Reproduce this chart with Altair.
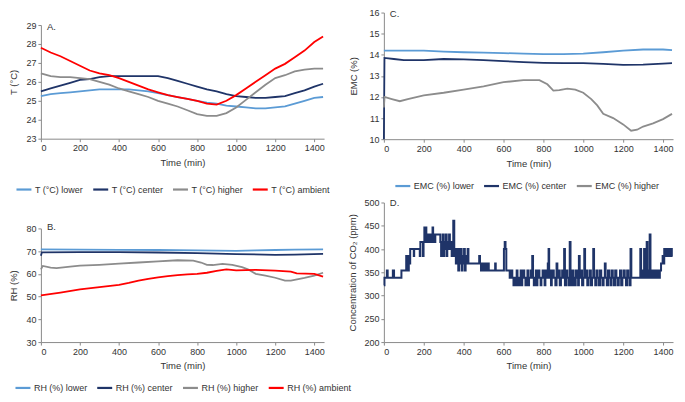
import altair as alt
import pandas as pd

FONT = "Liberation Sans"
LB, NV, GR, RD = "#5B9BD5", "#1F3468", "#8C8C8C", "#FF0000"

# ---------------- Panel A: temperature (°C)
a_time = [0, 50, 100, 150, 200, 250, 300, 350, 400, 450, 500, 550, 600, 650, 700,
          750, 800, 850, 900, 950, 1000, 1050, 1100, 1150, 1200, 1250, 1300, 1350, 1400, 1445]
a_lower = [25.25, 25.35, 25.4, 25.45, 25.5, 25.55, 25.6, 25.6, 25.6, 25.6, 25.55, 25.5, 25.4, 25.3, 25.2,
           25.1, 25.0, 24.9, 24.85, 24.75, 24.7, 24.65, 24.6, 24.6, 24.65, 24.7, 24.85, 25.0, 25.15, 25.2]
a_center = [25.5, 25.65, 25.8, 25.95, 26.1, 26.15, 26.25, 26.3, 26.3, 26.3, 26.3, 26.3, 26.3, 26.2, 26.05,
            25.9, 25.75, 25.6, 25.5, 25.35, 25.25, 25.2, 25.15, 25.15, 25.2, 25.25, 25.4, 25.55, 25.75, 25.9]
a_higher = [26.45, 26.3, 26.25, 26.25, 26.2, 26.15, 26.0, 25.85, 25.65, 25.5, 25.35, 25.2, 25.0, 24.85, 24.7,
            24.5, 24.3, 24.2, 24.2, 24.35, 24.65, 25.05, 25.45, 25.85, 26.2, 26.35, 26.55, 26.65, 26.7, 26.7]
a_ambient = [27.8, 27.55, 27.35, 27.1, 26.85, 26.6, 26.45, 26.35, 26.2, 26.0, 25.8, 25.6, 25.45, 25.3, 25.2,
             25.1, 25.0, 24.85, 24.8, 25.0, 25.3, 25.65, 26.0, 26.35, 26.7, 26.95, 27.3, 27.65, 28.1, 28.4]
a_names = ["T (°C) lower", "T (°C) center", "T (°C) higher", "T (°C) ambient"]

# ---------------- Panel B: relative humidity (%)
b_lower_t = [0, 200, 400, 600, 800, 1000, 1100, 1200, 1300, 1445]
b_lower = [70.8, 70.7, 70.6, 70.5, 70.3, 70.1, 70.3, 70.5, 70.7, 70.8]
b_center_t = [0, 5, 200, 400, 600, 800, 1000, 1200, 1300, 1445]
b_center = [68.0, 69.5, 69.6, 69.6, 69.4, 69.1, 68.7, 68.4, 68.5, 68.8]
b_higher_t = [0, 10, 50, 80, 150, 200, 300, 400, 500, 600, 700, 780, 820, 850, 880, 930, 980,
              1030, 1060, 1100, 1150, 1200, 1250, 1280, 1350, 1400, 1445]
b_higher = [62.0, 63.5, 62.8, 62.5, 63.2, 63.6, 64.0, 64.5, 65.0, 65.5, 66.0, 65.8, 65.0, 64.0, 63.9, 64.4, 64.0,
            63.0, 62.0, 60.0, 59.2, 58.3, 57.0, 57.0, 58.2, 59.2, 60.5]
b_ambient_t = [0, 100, 200, 300, 400, 450, 500, 550, 600, 650, 700, 750, 800, 850, 900, 950, 1000,
               1100, 1200, 1280, 1310, 1400, 1445]
b_ambient = [50.5, 51.8, 53.2, 54.2, 55.2, 56.0, 57.0, 57.8, 58.5, 59.0, 59.5, 59.8, 60.0, 60.5, 61.3, 62.0, 61.5,
             61.8, 61.4, 61.0, 60.2, 60.0, 58.8]
b_names = ["RH (%) lower", "RH (%) center", "RH (%) higher", "RH (%) ambient"]

# ---------------- Panel C: EMC (%)
c_lower_t = [0, 5, 100, 200, 300, 400, 500, 600, 700, 800, 900, 1000, 1100, 1200, 1300, 1400, 1445]
c_lower = [14.2, 14.2, 14.2, 14.2, 14.15, 14.12, 14.1, 14.08, 14.05, 14.03, 14.03, 14.05, 14.12, 14.2, 14.25, 14.25, 14.22]
c_center_t = [0, 3, 50, 100, 200, 300, 400, 500, 600, 700, 800, 900, 1000, 1100, 1200, 1300, 1400, 1445]
c_center = [10.0, 13.85, 13.8, 13.75, 13.75, 13.8, 13.78, 13.75, 13.7, 13.65, 13.62, 13.6, 13.6, 13.57, 13.52, 13.53, 13.58, 13.6]
c_higher_t = [0, 3, 40, 80, 120, 200, 300, 400, 500, 600, 700, 780, 820, 850, 880, 920, 960, 1000,
              1040, 1070, 1100, 1150, 1200, 1240, 1270, 1300, 1350, 1400, 1445]
c_higher = [11.5, 12.0, 11.9, 11.8, 11.9, 12.08, 12.2, 12.35, 12.5, 12.7, 12.8, 12.8, 12.6, 12.3, 12.32, 12.4, 12.35, 12.2,
            11.9, 11.6, 11.2, 11.0, 10.7, 10.4, 10.45, 10.6, 10.75, 10.95, 11.2]
c_names = ["EMC (%) lower", "EMC (%) center", "EMC (%) higher"]

# ---------------- Panel D: CO2 concentration (ppm), step series
co2_time = [0, 3, 15, 19, 45, 51, 88, 112, 114, 118, 120, 125, 127, 132, 150, 152, 180, 183, 196, 199,
            203, 206, 210, 213, 217, 222, 226, 232, 236, 244, 247, 252, 258, 283, 287, 290, 295, 300, 303, 307,
            311, 315, 318, 322, 327, 331, 335, 340, 344, 348, 353, 357, 361, 365, 369, 373, 377, 381, 385, 390,
            394, 398, 402, 406, 410, 414, 420, 424, 478, 482, 487, 491, 496, 500, 505, 510, 515, 520, 526, 558,
            561, 602, 606, 610, 614, 631, 640, 644, 650, 656, 662, 666, 670, 676, 680, 686, 690, 694, 700, 704,
            710, 714, 720, 724, 728, 736, 740, 744, 748, 752, 756, 762, 766, 770, 776, 780, 786, 790, 796, 800,
            806, 810, 816, 822, 826, 829, 834, 838, 842, 848, 852, 860, 866, 870, 876, 882, 888, 894, 900, 904,
            908, 914, 920, 926, 932, 936, 940, 946, 950, 956, 962, 968, 974, 978, 982, 988, 994, 1000, 1005, 1009,
            1014, 1020, 1026, 1032, 1038, 1044, 1050, 1054, 1060, 1066, 1072, 1078, 1084, 1090, 1096, 1102, 1108, 1112, 1118, 1124,
            1130, 1136, 1142, 1148, 1154, 1160, 1166, 1172, 1178, 1184, 1190, 1196, 1202, 1208, 1214, 1220, 1226, 1232, 1237, 1241,
            1286, 1290, 1296, 1300, 1305, 1309, 1314, 1318, 1322, 1328, 1333, 1337, 1342, 1348, 1356, 1362, 1370, 1376, 1384, 1390,
            1398, 1402, 1406, 1412, 1418, 1424, 1428, 1434, 1438, 1444, 1448]
co2_ppm = [322, 338, 354, 338, 354, 338, 354, 385, 354, 385, 354, 385, 369, 400, 385, 400, 385, 415, 385, 415,
           446, 415, 446, 431, 415, 431, 415, 431, 415, 446, 431, 415, 431, 415, 385, 415, 431, 385, 415, 400,
           431, 385, 415, 400, 431, 400, 415, 385, 400, 461, 385, 400, 369, 400, 385, 354, 400, 369, 400, 354,
           385, 369, 400, 354, 385, 369, 400, 369, 385, 369, 354, 369, 354, 369, 354, 369, 354, 369, 354, 369,
           354, 400, 415, 400, 354, 338, 354, 338, 322, 338, 322, 354, 338, 322, 338, 354, 322, 338, 354, 338,
           322, 338, 354, 322, 338, 354, 338, 385, 338, 322, 338, 354, 322, 338, 354, 338, 322, 338, 354, 338,
           322, 354, 338, 369, 400, 338, 354, 322, 338, 354, 338, 322, 369, 338, 354, 322, 338, 354, 338, 400,
           322, 354, 338, 322, 415, 338, 322, 354, 338, 322, 354, 338, 322, 385, 338, 354, 322, 338, 400, 338,
           354, 322, 338, 354, 322, 338, 400, 338, 322, 354, 338, 322, 354, 338, 322, 338, 369, 338, 322, 354,
           338, 322, 354, 338, 322, 354, 338, 322, 338, 354, 322, 338, 354, 338, 322, 354, 338, 322, 400, 338,
           400, 338, 354, 338, 400, 354, 338, 415, 338, 354, 431, 338, 354, 338, 354, 338, 354, 338, 354, 369,
           385, 369, 400, 385, 400, 385, 400, 385, 400, 385, 385]


def long_df(pairs, names):
    rows = []
    for (tt, vv), n in zip(pairs, names):
        for t, v in zip(tt, vv):
            rows.append({"t": t, "v": v, "s": n})
    return pd.DataFrame(rows)


df_a = long_df([(a_time, a_lower), (a_time, a_center), (a_time, a_higher), (a_time, a_ambient)], a_names)
df_b = long_df([(b_lower_t, b_lower), (b_center_t, b_center), (b_higher_t, b_higher), (b_ambient_t, b_ambient)], b_names)
df_c = long_df([(c_lower_t, c_lower), (c_center_t, c_center), (c_higher_t, c_higher)], c_names)
df_d = pd.DataFrame({"t": co2_time, "v": co2_ppm})


def panel(df, ytitle, ydom, yvals, label, w, h, names=None, colors=None,
          lx=0, ly=0, ytp=7, interp="linear", sw=1.8, label_y=2):
    x = alt.X("t:Q", scale=alt.Scale(domain=[0, 1450], nice=False),
              axis=alt.Axis(values=list(range(0, 1401, 200)), format="d", title="Time (min)", grid=False))
    y = alt.Y("v:Q", scale=alt.Scale(domain=ydom, nice=False, zero=False),
              axis=alt.Axis(values=yvals, format="d", title=ytitle, grid=False, titlePadding=ytp))
    if names:
        color = alt.Color("s:N", sort=names, scale=alt.Scale(domain=names, range=colors),
                          legend=alt.Legend(title=None, orient="none", legendX=lx, legendY=ly,
                                            direction="horizontal", columns=len(names),
                                            symbolType="stroke", symbolStrokeWidth=2.2,
                                            symbolSize=225, labelFontSize=9, labelFont=FONT,
                                            labelColor="#333", labelOffset=2, columnPadding=5))
        line = alt.Chart(df).mark_line(strokeWidth=sw, interpolate=interp).encode(x=x, y=y, color=color)
    else:
        line = alt.Chart(df).mark_line(strokeWidth=sw, interpolate=interp, color=NV).encode(x=x, y=y)
    txt = alt.Chart(pd.DataFrame({"l": [label]})).mark_text(
        align="left", baseline="middle", fontSize=9.5, font=FONT, color="#333"
    ).encode(text="l:N", x=alt.value(6), y=alt.value(label_y))
    return alt.layer(line, txt).properties(width=w, height=h)


A = panel(df_a, "T (°C)", [23, 29], list(range(23, 30)), "A.", 284, 114,
          a_names, [LB, NV, GR, RD], lx=-26, ly=156, ytp=7)
B = panel(df_b, "RH (%)", [30, 80], list(range(30, 81, 10)), "B.", 284, 114,
          b_names, [LB, NV, GR, RD], lx=-27, ly=151, ytp=7, label_y=-1)
C = panel(df_c, "EMC (%)", [10, 16], list(range(10, 17)), "C.", 290, 127,
          c_names, [LB, NV, GR], lx=10, ly=165, ytp=10, label_y=1)
D = panel(df_d, "Concentration of CO₂ (ppm)", [200, 500], list(range(200, 501, 50)), "D.", 290, 140,
          interp="step-after", sw=2.0, ytp=6, label_y=1)

# invisible spacer that lowers the left column a little
spacer = alt.Chart(pd.DataFrame({"a": [0]})).mark_point(opacity=0, size=1).encode(
    x=alt.value(0), y=alt.value(0)).properties(width=1, height=1)

inner_left = alt.vconcat(A, B, spacing=90, bounds="flush").resolve_scale(
    x="independent", y="independent", color="independent")
left = alt.vconcat(spacer, inner_left, spacing=11.5, bounds="flush").resolve_scale(
    x="independent", y="independent", color="independent")
right = alt.vconcat(C, D, spacing=63.5, bounds="flush").resolve_scale(
    x="independent", y="independent", color="independent")

# with flush bounds the nested left column counts as zero width, so the
# spacing below is the distance between the two columns' plot origins
chart = alt.hconcat(left, right, spacing=344, bounds="flush").resolve_scale(
    x="independent", y="independent", color="independent"
).properties(padding=0).configure_view(stroke=None).configure_axis(
    domainColor="#8a8a8a", tickColor="#8a8a8a", tickSize=3, labelPadding=2,
    labelFont=FONT, labelFontSize=9, labelColor="#333",
    titleFont=FONT, titleFontSize=9.5, titleFontWeight="normal", titleColor="#333"
).configure_axisX(titlePadding=5)

chart.save("out.html", embed_options={"renderer": "svg", "actions": False})
